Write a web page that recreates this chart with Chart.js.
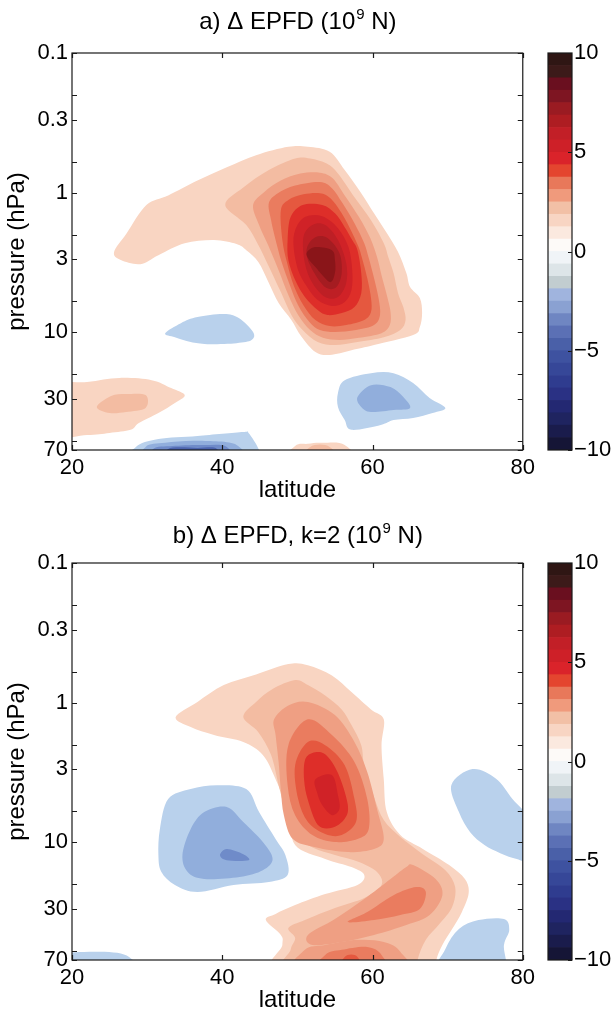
<!DOCTYPE html>
<html>
<head>
<meta charset="utf-8">
<script src="https://cdn.jsdelivr.net/npm/chart.js@4.4.1/dist/chart.umd.min.js"></script>
<style>
  body { margin: 0; background: #fff; }
  #wrap { position: relative; width: 614px; height: 1010px; overflow: hidden; }
  canvas { position: absolute; }
</style>
</head>
<body>
<div id="wrap">
  <canvas id="mainA" width="540" height="505" style="left:0;top:0"></canvas>
  <canvas id="cbA" width="74" height="505" style="left:540px;top:0"></canvas>
  <canvas id="mainB" width="540" height="505" style="left:0;top:510px"></canvas>
  <canvas id="cbB" width="74" height="505" style="left:540px;top:510px"></canvas>
</div>
<script>
// ============ 1. AXES / TICKS ==============
const latTicks = [20, 40, 60, 80];
const pTicks = [0.1, 0.3, 1, 3, 10, 30, 70];
const pLabels = ["0.1", "0.3", "1", "3", "10", "30", "70"];
const pMinor = [0.2, 0.6, 2, 6, 20, 60];
const cbTicks = [-10, -5, 0, 5, 10];

// colorbar: 32 blocks, bottom (-10) to top (10)
const cbEdges = [-10, -9.375, -8.75, -8.125, -7.5, -6.875, -6.25, -5.625, -5, -4.375, -3.75, -3.125,
  -2.5, -1.875, -1.25, -0.625, 0, 0.625, 1.25, 1.875, 2.5, 3.125, 3.75, 4.375, 5, 5.625, 6.25,
  6.875, 7.5, 8.125, 8.75, 9.375, 10];
const cbColors = ["#151536", "#1a1c4c", "#1f2460", "#232872", "#2a3184", "#2f3c8f", "#364798", "#3e52a0",
  "#4a60a8", "#5b70b5", "#6f86c2", "#8aa1d2", "#a0b4de", "#c2cdd0", "#dde5e8", "#f0f4f7",
  "#fdfaf8", "#fbe9df", "#f8d5c3", "#f2c0a6", "#f09a7c", "#e8785a", "#e4452f", "#da232a",
  "#ce2028", "#c21f27", "#ae1d22", "#9a1b22", "#7e1522", "#6a0f1f", "#3c1a19", "#2f1614"];

// fill colours of the contour levels
const posColors = ["#f9d5c2", "#f3bca2", "#ef9f83", "#ea7c5f", "#e5583f", "#de2e29", "#d02227", "#be1f25", "#a51c21", "#8a1519"];
const negColors = ["#b9d1ec", "#91aedc", "#6f8bc9", "#4c64ae"];

// ============ 2. CONTOURS, panel a  [latitude, hPa] ==============
const aPos1 = [[25.6,2.67],[27.3,1.95],[29.9,1.23],[32.8,1.05],[36.7,0.82],[40.6,0.66],[44.5,0.54],[48.8,0.47],[51.4,0.47],[54.3,0.51],[56.3,0.69],[58.5,1.01],[60.2,1.41],[61.9,1.95],[63.4,2.67],[64.5,3.78],[65.0,4.76],[66.3,5.71],[66.6,7.31],[66.3,9.2],[65.4,10.5],[60.2,12.4],[57.2,13.5],[54.3,14.6],[52.4,13.9],[50.5,10.7],[49.2,8.2],[47.5,6.2],[46.2,4.45],[44.8,3.15],[43.2,2.59],[41.9,2.34],[38.9,2.19],[35.0,2.31],[31.5,2.81],[29.1,3.26],[26.5,3.05]];
const aPos2 = [[40.4,1.23],[42.8,0.92],[46.2,0.69],[49.7,0.57],[51.7,0.57],[53.9,0.62],[55.4,0.73],[57.6,1.08],[59.8,1.58],[61.5,2.31],[62.1,2.9],[62.8,3.78],[63.4,5.26],[64.1,6.62],[64.4,8.2],[63.7,9.68],[61.5,10.9],[58.0,11.8],[55.0,12.4],[52.7,11.8],[50.7,9.68],[49.2,7.55],[47.8,5.17],[46.1,3.31],[44.8,2.38],[43.2,1.71]];
const aPos3 = [[44.1,1.23],[45.6,0.99],[47.8,0.82],[50.4,0.73],[53.0,0.72],[54.7,0.79],[56.3,1.05],[58.2,1.5],[59.7,2.12],[60.6,2.9],[61.2,3.91],[61.9,5.43],[62.4,7.19],[62.3,8.91],[61.2,10.2],[58.2,11.0],[55.6,11.4],[53.4,11.0],[51.7,9.68],[50.1,7.55],[48.8,5.43],[47.5,3.6],[46.1,2.38],[44.9,1.71]];
const aPos4 = [[46.2,1.19],[47.4,1.01],[49.7,0.89],[53.0,0.84],[54.6,0.93],[56.0,1.19],[57.6,1.66],[58.9,2.31],[59.5,2.95],[60.2,4.1],[60.8,5.71],[61.0,7.55],[60.2,8.91],[57.8,9.68],[55.0,10.0],[53.0,9.68],[51.6,8.47],[50.1,6.41],[49.0,4.61],[47.9,3.15],[47.1,2.19],[46.5,1.58]];
const aPos5 = [[47.8,1.34],[48.8,1.13],[50.8,1.03],[53.0,1.01],[54.4,1.1],[55.9,1.41],[57.3,1.95],[58.2,2.5],[58.6,2.95],[59.3,4.1],[59.8,5.71],[59.8,7.19],[58.9,8.2],[56.5,8.91],[54.3,9.06],[52.4,8.2],[50.8,6.41],[49.5,4.61],[48.6,3.15],[48.0,2.19]];
const aPos6 = [[48.7,2.19],[49.1,1.5],[50.7,1.23],[53.3,1.23],[55.0,1.41],[56.3,1.77],[57.3,2.19],[58.0,2.59],[58.5,3.78],[58.5,5.26],[57.6,6.62],[55.9,7.31],[54.0,7.55],[52.7,6.96],[51.0,5.61],[49.7,4.24],[48.8,3.05]];
const aPos7 = [[49.5,2.46],[49.7,1.86],[51.0,1.5],[53.3,1.48],[55.4,1.8],[56.8,2.46],[57.3,3.6],[57.2,5.0],[56.3,6.1],[54.6,6.51],[52.7,5.9],[51.3,4.76],[50.1,3.6]];
const aPos8 = [[50.8,2.09],[52.0,1.71],[53.7,1.71],[55.4,2.19],[56.5,3.21],[56.5,4.45],[55.4,5.61],[53.7,5.61],[52.0,4.45],[51.0,3.21]];
const aPos9 = [[51.3,2.46],[52.4,2.09],[54.0,2.12],[55.6,2.72],[55.9,3.78],[55.2,4.76],[53.9,4.84],[52.6,4.04],[51.4,3.05]];
const aPos10 = [[51.3,2.67],[52.4,2.46],[54.6,2.59],[55.0,3.05],[55.0,3.78],[54.3,4.38],[52.4,3.42],[51.4,2.95]];
const aLowL1 = [[17,24.8],[22.0,22.8],[26.3,21.3],[30.6,22.1],[33.2,25.2],[35.0,28.3],[33.7,32.2],[31.5,38.0],[28.9,44.8],[27.8,50.2],[25.0,52.8],[22.0,54.6],[17,54.6]];
const aLowL2 = [[23.3,34.4],[25.2,28.7],[27.2,27.8],[29.8,28.3],[29.8,35.0],[27.2,37.4],[25.0,38.0]];
const aBotR1 = [[48.2,90],[49.7,65.5],[51.4,63.2],[53.3,62.2],[56.3,64.4],[57.8,90]];
const aBotR2 = [[50.4,90],[51.7,66.5],[54.3,66.5],[55.6,90]];
const aNegMid = [[32.4,10.2],[34.5,8.63],[36.7,7.81],[40.2,7.43],[42.2,7.94],[44.1,10.0],[43.9,11.4],[41.9,12.0],[38.0,12.2],[35.8,11.8],[33.7,10.9]];
const aNegR1 = [[55.4,27.3],[56.3,22.1],[59.8,19.7],[62.8,19.7],[65.4,23.2],[67.6,29.7],[69.7,35.0],[68.0,38.0],[65.4,41.3],[62.8,42.7],[61.1,46.3],[57.2,50.2],[56.3,42.7],[55.4,34.4]];
const aNegR2 = [[58.0,29.2],[59.8,24.0],[62.4,24.8],[64.1,29.2],[65.0,35.0],[62.8,36.2],[59.8,37.4],[58.5,34.4]];
const aNegB1 = [[28.5,66.5],[31.5,58.3],[36.7,55.5],[42.8,52.0],[43.5,52.8],[44.9,70],[45.2,90],[28.0,90]];
const aNegB2 = [[29.8,66.5],[32.4,62.2],[36.7,60.2],[41.9,64.4],[42.3,90],[29.5,90]];
const aNegB3 = [[30.8,68.8],[33.4,65.5],[37.4,64.4],[40.6,66.5],[40.9,90],[30.6,90]];
const aNegB4 = [[32.8,68.8],[36.7,67.6],[39.3,68.8],[39.3,90],[32.8,90]];

// ============ 3. CONTOURS, panel b  [latitude, hPa] ==============
const bPos1 = [[33.8,1.27],[36.7,0.99],[40.2,0.75],[44.5,0.63],[48.8,0.53],[51.4,0.54],[54.6,0.64],[57.2,0.84],[59.8,1.12],[61.5,1.32],[61.2,2.02],[61.5,3.54],[61.9,6.1],[63.7,8.91],[66.7,11.2],[70.2,14.6],[72.3,18.4],[72.8,23.2],[71.9,31.7],[70.6,42.0],[69.3,54.6],[68.5,70],[68.4,90],[47.6,90],[48.0,54.6],[47.8,46.3],[45.8,36.2],[47.1,32.7],[49.7,28.3],[53.7,23.6],[58.0,20.3],[58.9,17.2],[57.2,15.1],[53.7,13.2],[49.7,10.5],[48.8,6.1],[47.1,3.54],[45.4,2.38],[42.8,1.92],[38.9,1.71],[35.8,1.5]];
const bPos2 = [[42.8,1.27],[44.5,0.99],[46.7,0.8],[49.7,0.69],[51.4,0.75],[53.7,0.89],[55.9,1.12],[57.2,1.45],[58.5,2.02],[58.9,2.81],[60.2,4.76],[61.5,6.96],[63.7,9.2],[66.7,12.2],[69.7,15.9],[71.0,21.0],[70.6,29.2],[68.9,38.7],[67.1,50.2],[66.0,70],[65.9,90],[48.7,90],[49.1,59.2],[49.7,48.7],[48.8,41.3],[51.0,36.2],[55.0,29.7],[58.9,25.2],[61.2,20.3],[60.6,16.4],[58.2,13.9],[55.0,12.4],[52.1,11.0],[49.7,8.91],[48.4,5.9],[47.5,3.91],[46.5,2.38],[44.8,1.63]];
const bPos3a = [[46.9,1.32],[48.8,1.05],[51.4,0.99],[55.0,1.23],[57.6,1.92],[59.3,3.15],[60.6,5.8],[61.5,9.51],[60.2,11.2],[56.7,11.8],[52.4,10.9],[49.4,9.51],[48.2,6.41],[47.8,4.24],[47.5,2.67],[47.1,1.71]];
const bPos3b = [[51.4,46.3],[55.0,35.6],[58.9,25.6],[62.4,18.4],[64.5,15.1],[65.4,14.6],[68.4,18.4],[69.3,24.0],[67.6,33.3],[64.5,39.3],[60.2,46.3],[55.9,52.0],[52.0,54.6]];
const bPos3c = [[49.7,90],[51.0,59.2],[53.7,54.6],[58.0,50.2],[61.5,52.0],[63.7,61.2],[64.4,90]];
const bPos4a = [[48.8,2.02],[51.4,1.32],[54.6,1.71],[57.6,2.67],[59.3,4.92],[59.5,8.07],[58.0,9.51],[55.0,10.0],[52.0,8.91],[49.7,6.41],[48.7,3.91]];
const bPos4b = [[56.7,37.4],[59.3,31.7],[62.8,24.0],[65.8,21.0],[67.1,22.8],[66.3,30.2],[63.7,33.3],[60.2,36.2]];
const bPos4c = [[52.4,90],[53.7,64.4],[55.9,59.2],[59.3,56.4],[61.2,64.4],[61.7,90]];
const bPos5a = [[49.7,2.81],[51.4,1.92],[53.7,2.02],[56.3,2.81],[57.6,4.92],[57.8,7.19],[55.9,8.91],[53.7,8.76],[51.4,7.19],[50.1,4.92]];
const bPos5b = [[55.4,90],[56.3,66.5],[58.0,66.5],[58.6,90]];
const bPos6 = [[51.0,2.6],[52.0,2.3],[53.7,2.35],[55.4,3.2],[56.7,5.35],[56.3,6.8],[54.6,7.9],[52.7,7.5],[51.4,5.0],[50.9,3.6]];
const bPos7 = [[52.4,3.54],[54.6,3.31],[55.4,4.61],[55.6,5.8],[54.6,6.41],[53.3,5.43],[52.6,4.38]];
const bNegL1 = [[32.8,4.92],[35.8,4.17],[39.3,3.91],[43.2,4.17],[44.9,6.1],[47.1,9.51],[48.4,12.4],[48.7,17.2],[46.2,19.3],[41.5,20.3],[36.7,22.8],[33.7,20.3],[31.9,16.4],[31.5,12.4],[31.7,8.07]];
const bNegL2 = [[35.8,8.07],[37.6,6.1],[40.6,5.61],[42.8,7.19],[45.4,10.0],[46.7,13.2],[45.4,15.9],[42.3,17.8],[37.6,18.4],[35.4,16.4],[34.7,12.4]];
const bNegL3 = [[39.7,12.4],[40.6,11.2],[42.8,12.2],[43.5,13.5],[40.6,13.5]];
const bNegBL = [[17,65.5],[23.7,61.2],[27.6,66.5],[28.2,90],[17,90]];
const bNegR = [[70.5,3.9],[73.3,3.0],[76.4,3.5],[78.6,4.9],[80.6,6.8],[80.6,13.0],[79.2,13.2],[77.0,12.0],[74.9,10.5],[73.0,8.5],[71.5,6.1]];
const bNegBR = [[68.7,90],[69.7,58.3],[71.5,42.0],[74.1,36.2],[77.5,35.6],[78.2,42.7],[77.5,54.6],[77.1,90]];

// draw order: outer levels first
const contoursA = [
  [1, aPos1], [1, aLowL1], [1, aBotR1], [2, aPos2], [2, aLowL2], [2, aBotR2],
  [3, aPos3], [4, aPos4], [5, aPos5], [6, aPos6], [7, aPos7], [8, aPos8], [9, aPos9], [10, aPos10],
  [-1, aNegMid], [-1, aNegR1], [-1, aNegB1], [-2, aNegR2], [-2, aNegB2], [-3, aNegB3], [-4, aNegB4]
];
const contoursB = [
  [1, bPos1], [2, bPos2], [3, bPos3a], [3, bPos3b], [3, bPos3c],
  [4, bPos4a], [4, bPos4b], [4, bPos4c], [5, bPos5a], [5, bPos5b], [6, bPos6], [7, bPos7],
  [-1, bNegL1], [-1, bNegBL], [-1, bNegR], [-1, bNegBR], [-2, bNegL2], [-3, bNegL3]
];

// ============ 4. PLUGINS ==============
const FONT = '"Liberation Sans", Arial, Helvetica, sans-serif';
const tickFont = { family: FONT, size: 22 };
const labFont = { family: FONT, size: 24 };

function lvlColor(l) { return l > 0 ? posColors[l - 1] : negColors[-l - 1]; }

// filled contour polygons (closed Catmull-Rom through the points the scales placed)
const contourFill = {
  id: "contourFill",
  beforeDatasetsDraw(chart) {
    const { ctx, chartArea: a } = chart;
    ctx.save();
    ctx.beginPath();
    ctx.rect(a.left, a.top, a.right - a.left, a.bottom - a.top);
    ctx.clip();
    chart.data.datasets.forEach((ds, i) => {
      const pts = chart.getDatasetMeta(i).data;
      const n = pts.length;
      if (n < 3) return;
      const P = k => pts[(k + n) % n];
      ctx.beginPath();
      ctx.moveTo(pts[0].x, pts[0].y);
      for (let k = 0; k < n; k++) {
        const p0 = P(k - 1), p1 = P(k), p2 = P(k + 1), p3 = P(k + 2);
        ctx.bezierCurveTo(
          p1.x + (p2.x - p0.x) / 6, p1.y + (p2.y - p0.y) / 6,
          p2.x - (p3.x - p1.x) / 6, p2.y - (p3.y - p1.y) / 6,
          p2.x, p2.y);
      }
      ctx.closePath();
      ctx.fillStyle = ds.backgroundColor;
      ctx.fill();
    });
    ctx.restore();
  }
};

// box with inward ticks on all four sides
const axesBox = {
  id: "axesBox",
  afterDraw(chart) {
    const { ctx, chartArea: a, scales: { x, y } } = chart;
    ctx.save();
    ctx.strokeStyle = "#1a1a1a";
    ctx.lineWidth = 1.2;
    ctx.strokeRect(a.left, a.top, a.right - a.left, a.bottom - a.top);
    ctx.beginPath();
    latTicks.forEach(v => {
      const px = Math.round(x.getPixelForValue(v)) + 0.5;
      ctx.moveTo(px, a.bottom); ctx.lineTo(px, a.bottom - 5);
      ctx.moveTo(px, a.top); ctx.lineTo(px, a.top + 5);
    });
    pTicks.concat(pMinor).forEach(v => {
      const py = Math.round(y.getPixelForValue(v)) + 0.5;
      ctx.moveTo(a.left, py); ctx.lineTo(a.left + 5, py);
      ctx.moveTo(a.right, py); ctx.lineTo(a.right - 5, py);
    });
    ctx.stroke();
    ctx.restore();
  }
};

// title with a raised exponent
const supTitle = {
  id: "supTitle",
  afterDraw(chart, args, o) {
    const { ctx, chartArea: a } = chart;
    const big = "24px " + FONT, small = "15px " + FONT;
    ctx.save();
    ctx.fillStyle = "#000";
    ctx.textBaseline = "alphabetic";
    ctx.font = big;
    const w1 = ctx.measureText(o.pre).width, w3 = ctx.measureText(o.post).width;
    ctx.font = small;
    const w2 = ctx.measureText(o.sup).width;
    let x = (a.left + a.right) / 2 - (w1 + w2 + w3) / 2;
    ctx.font = big; ctx.fillText(o.pre, x, o.y); x += w1;
    ctx.font = small; ctx.fillText(o.sup, x + 1, o.y - 10); x += w2 + 1;
    ctx.font = big; ctx.fillText(o.post, x, o.y);
    ctx.restore();
  }
};

const cbFrame = {
  id: "cbFrame",
  afterDraw(chart) {
    const { ctx, chartArea: a, scales: { y } } = chart;
    ctx.save();
    ctx.strokeStyle = "#1a1a1a";
    ctx.lineWidth = 1.2;
    ctx.strokeRect(a.left, a.top, a.right - a.left, a.bottom - a.top);
    ctx.beginPath();
    cbTicks.forEach(v => {
      const py = Math.round(y.getPixelForValue(v)) + 0.5;
      ctx.moveTo(a.right, py); ctx.lineTo(a.right - 4, py);
    });
    ctx.stroke();
    ctx.restore();
  }
};

// ============ 5. CHARTS ==============
function makeMain(id, contours, title, canvasH) {
  new Chart(document.getElementById(id), {
    type: "scatter",
    data: {
      datasets: contours.map(([lvl, pts]) => ({
        data: pts.map(([lat, p]) => ({ x: lat, y: p })),
        backgroundColor: lvlColor(lvl),
        pointRadius: 0,
        showLine: false
      }))
    },
    options: {
      responsive: false,
      animation: false,
      devicePixelRatio: 1,
      events: [],
      layout: { padding: { left: 0, right: 8, top: 53, bottom: 0 } },
      plugins: {
        legend: { display: false },
        tooltip: { enabled: false },
        supTitle: title
      },
      scales: {
        x: {
          type: "linear", position: "bottom", min: 20, max: 80,
          afterFit: s => { s.height = canvasH - 450; },
          afterBuildTicks: s => { s.ticks = latTicks.map(v => ({ value: v })); },
          grid: { display: false, drawTicks: false },
          border: { display: false },
          ticks: { padding: 5, color: "#000", font: tickFont, maxRotation: 0, autoSkip: false },
          title: { display: true, text: "latitude", color: "#000", font: labFont, padding: { top: 0, bottom: 0 } }
        },
        y: {
          type: "logarithmic", position: "left", min: 0.1, max: 70, reverse: true,
          afterFit: s => { s.width = 72; },
          afterBuildTicks: s => { s.ticks = pTicks.map(v => ({ value: v })); },
          grid: { display: false, drawTicks: false },
          border: { display: false },
          ticks: { padding: 4, color: "#000", font: tickFont, autoSkip: false, callback: (v, i) => pLabels[i] },
          title: { display: true, text: "pressure (hPa)", color: "#000", font: labFont, padding: { top: 3, bottom: 0 } }
        }
      }
    },
    plugins: [contourFill, axesBox, supTitle]
  });
}

function makeColorbar(id, canvasH) {
  new Chart(document.getElementById(id), {
    type: "bar",
    data: {
      labels: ["cb"],
      datasets: cbColors.map((c, i) => ({
        data: [[cbEdges[i], cbEdges[i + 1]]],
        backgroundColor: c,
        borderWidth: 0,
        barPercentage: 1,
        categoryPercentage: 1,
        grouped: false
      }))
    },
    options: {
      responsive: false,
      animation: false,
      devicePixelRatio: 1,
      events: [],
      layout: { padding: { left: 8, right: 0, top: 53, bottom: canvasH - 450 } },
      plugins: { legend: { display: false }, tooltip: { enabled: false } },
      scales: {
        x: { display: false },
        y: {
          position: "right", min: -10, max: 10,
          afterFit: s => { s.width = 42; },
          afterBuildTicks: s => { s.ticks = cbTicks.map(v => ({ value: v })); },
          grid: { display: false, drawTicks: false },
          border: { display: false },
          ticks: { padding: 2, color: "#000", font: tickFont, callback: v => (v < 0 ? "\u2212" + (-v) : String(v)) }
        }
      }
    },
    plugins: [cbFrame]
  });
}

makeMain("mainA", contoursA, { pre: "a) \u0394 EPFD (10", sup: "9", post: " N)", y: 29 }, 505);
makeColorbar("cbA", 505);
makeMain("mainB", contoursB, { pre: "b) \u0394 EPFD, k=2 (10", sup: "9", post: " N)", y: 33 }, 505);
makeColorbar("cbB", 505);
</script>
</body>
</html>
